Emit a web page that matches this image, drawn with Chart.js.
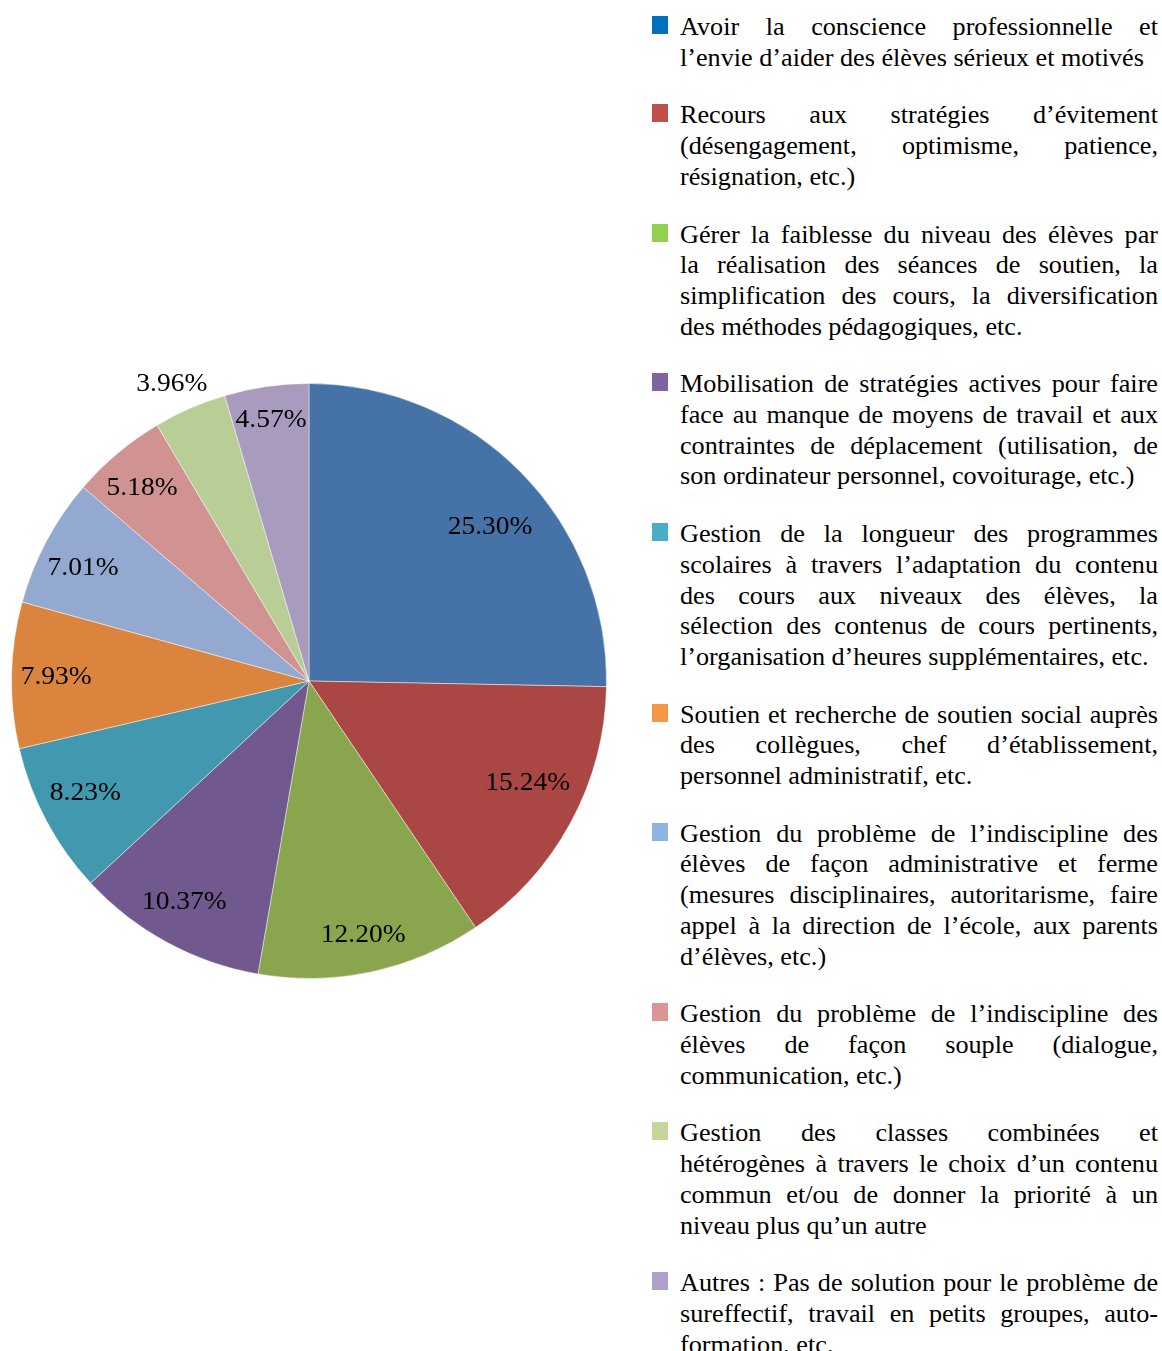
<!DOCTYPE html>
<html>
<head>
<meta charset="utf-8">
<script src="https://cdn.jsdelivr.net/npm/chart.js@4.4.1/dist/chart.umd.min.js"></script>
<style>
  body {
    margin: 0;
    background: #fff;
    width: 1162px;
    height: 1351px;
    overflow: hidden;
    position: relative;
    font-family: "Liberation Serif", "Times New Roman", serif;
  }
  #pie-box { position: absolute; left: 0; top: 360px; width: 620px; height: 640px; }
  #legend { position: absolute; left: 652px; top: 12px; width: 506px; margin: 0; padding: 0; list-style: none; }
  #legend li {
    position: relative;
    padding-left: 28px;
    font-size: 26.2px;
    line-height: 30.7px;
    margin-bottom: 27px;
    color: #000;
  }
  #legend li div { text-align: justify; text-align-last: justify; }
  #legend li div:last-child { text-align-last: left; }
  #legend .box { position: absolute; left: 0; top: 4px; width: 16px; height: 18px; }
</style>
</head>
<body>
<div id="pie-box"><canvas id="pie"></canvas></div>
<ul id="legend"></ul>

<script>
// line breaks as in the original legend
const labels = [
  "Avoir la conscience professionnelle et\nl’envie d’aider des élèves sérieux et motivés",
  "Recours aux stratégies d’évitement\n(désengagement, optimisme, patience,\nrésignation, etc.)",
  "Gérer la faiblesse du niveau des élèves par\nla réalisation des séances de soutien, la\nsimplification des cours, la diversification\ndes méthodes pédagogiques, etc.",
  "Mobilisation de stratégies actives pour faire\nface au manque de moyens de travail et aux\ncontraintes de déplacement (utilisation, de\nson ordinateur personnel, covoiturage, etc.)",
  "Gestion de la longueur des programmes\nscolaires à travers l’adaptation du contenu\ndes cours aux niveaux des élèves, la\nsélection des contenus de cours pertinents,\nl’organisation d’heures supplémentaires, etc.",
  "Soutien et recherche de soutien social auprès\ndes collègues, chef d’établissement,\npersonnel administratif, etc.",
  "Gestion du problème de l’indiscipline des\nélèves de façon administrative et ferme\n(mesures disciplinaires, autoritarisme, faire\nappel à la direction de l’école, aux parents\nd’élèves, etc.)",
  "Gestion du problème de l’indiscipline des\nélèves de façon souple (dialogue,\ncommunication, etc.)",
  "Gestion des classes combinées et\nhétérogènes à travers le choix d’un contenu\ncommun et/ou de donner la priorité à un\nniveau plus qu’un autre",
  "Autres : Pas de solution pour le problème de\nsureffectif, travail en petits groupes, auto-\nformation, etc."
];

const values = [25.30, 15.24, 12.20, 10.37, 8.23, 7.93, 7.01, 5.18, 3.96, 4.57];

const sliceColors = ["#4572A7", "#AA4643", "#89A54E", "#71588F", "#4198AF", "#DB843D", "#93A9CF", "#D19392", "#B9CD96", "#A99BBD"];
const legendColors = ["#0070C0", "#C0504D", "#92D050", "#8064A2", "#4BACC6", "#F79646", "#8DB4E2", "#DA9694", "#C4D79B", "#B1A0C7"];

// html legend, the original one is justified text
const legend = document.getElementById("legend");
labels.forEach((text, i) => {
  const li = document.createElement("li");
  const box = document.createElement("span");
  box.className = "box";
  box.style.background = legendColors[i];
  li.appendChild(box);
  text.split("\n").forEach((line) => {
    const div = document.createElement("div");
    div.textContent = line;
    li.appendChild(div);
  });
  legend.appendChild(li);
});

// percent labels on the slices
const sliceLabels = {
  id: "sliceLabels",
  afterDatasetsDraw(chart, args, opts) {
    const ctx = chart.ctx;
    const meta = chart.getDatasetMeta(0);
    ctx.save();
    ctx.font = opts.font;
    ctx.fillStyle = "#000";
    ctx.textAlign = "center";
    ctx.textBaseline = "middle";
    meta.data.forEach((arc, i) => {
      const p = arc.getProps(["x", "y", "startAngle", "endAngle", "outerRadius"], true);
      const mid = (p.startAngle + p.endAngle) / 2 + opts.shift[i] * Math.PI / 180;
      const r = p.outerRadius * opts.radius[i];
      ctx.save();
      ctx.translate(p.x + Math.cos(mid) * r, p.y + Math.sin(mid) * r);
      ctx.scale(1.1, 1);
      ctx.fillText(values[i].toFixed(2) + "%", 0, 1);
      ctx.restore();
    });
    ctx.restore();
  }
};

new Chart(document.getElementById("pie"), {
  type: "pie",
  data: {
    labels: labels.map((s) => s.replace(/-\n/g, "-").replace(/\n/g, " ")),
    datasets: [
      {
        data: values,
        backgroundColor: sliceColors,
        borderColor: "rgba(255,255,255,0.45)",
        borderWidth: 1,
      },
    ],
  },
  options: {
    responsive: true,
    maintainAspectRatio: false,
    animation: false,
    layout: { padding: { left: 11, right: 13, top: 23, bottom: 21 } },
    plugins: {
      legend: { display: false },
      tooltip: { enabled: false },
      sliceLabels: {
        font: '25px "Liberation Serif", "Times New Roman", serif',
        radius: [0.80, 0.81, 0.87, 0.85, 0.84, 0.85, 0.85, 0.86, 1.10, 0.89],
        shift: [4, -3.7, 0, 1, 1.5, 0, -1.3, -0.7, -1.2, 0],
      },
    },
  },
  plugins: [sliceLabels],
});
</script>
</body>
</html>
